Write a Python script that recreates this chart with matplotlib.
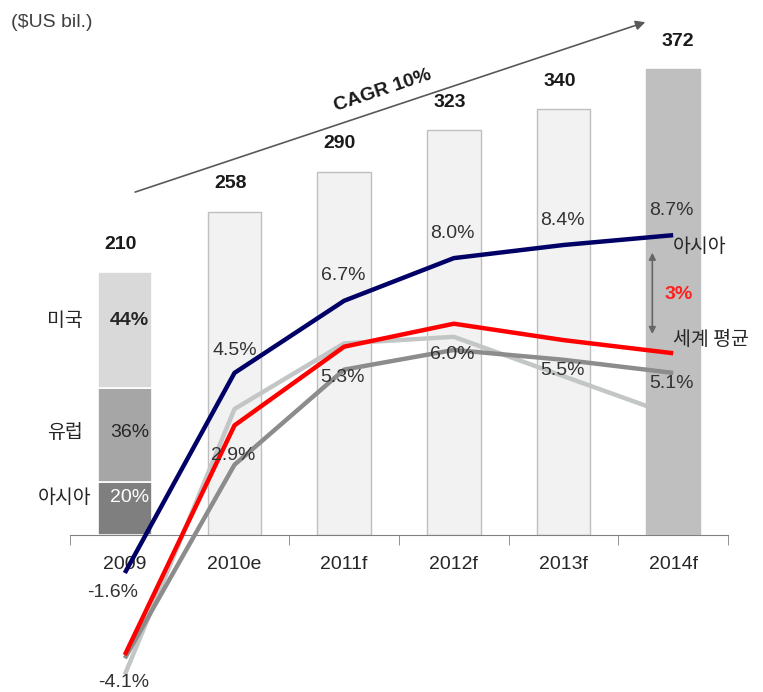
import matplotlib
matplotlib.use("Agg")
import matplotlib.pyplot as plt

plt.rcParams['font.family'] = ['Liberation Sans', 'Noto Sans CJK KR', 'DejaVu Sans']

years = ["2009", "2010e", "2011f", "2012f", "2013f", "2014f"]
market = [210, 258, 290, 323, 340, 372]          # $US bil.

# 2009 split by region
regions = ["아시아", "유럽", "미국"]
region_share = [20, 36, 44]

# growth rates (%)
asia = [-1.6, 4.5, 6.7, 8.0, 8.4, 8.7]
world = [-4.1, 2.9, 5.3, 6.0, 5.5, 5.1]
europe = [-4.2, 1.7, 4.6, 5.2, 4.9, 4.5]
usa = [-4.7, 3.4, 5.4, 5.6, 4.4, 3.2]
gap_label = "3%"

fig = plt.figure(figsize=(7.63, 6.92), dpi=100)
ax = fig.add_axes([70 / 763, 157 / 692, 658 / 763, 535 / 692])
ax2 = ax.twinx()
ax.set_zorder(1)
ax2.set_zorder(2)
ax2.patch.set_visible(False)

x = list(range(len(years)))
w = 0.49

# bars: first one stacked by region, last one highlighted
seg_colors = ["#7f7f7f", "#a6a6a6", "#d9d9d9"]
bottom = 0
seg_mid = []
for share, c in zip(region_share, seg_colors):
    h = market[0] * share / 100
    ax.bar(0, h, w, bottom=bottom, color=c, edgecolor="white", linewidth=1.2)
    seg_mid.append(bottom + h / 2)
    bottom += h
ax.bar(x[1:5], market[1:5], w, color="#f2f2f2", edgecolor="#bfbfbf", linewidth=1)
ax.bar(x[5], market[5], w, color="#bfbfbf", edgecolor="#bfbfbf", linewidth=1, zorder=3)

for i, v in enumerate(market):
    ax.annotate(str(v), (i, v), xytext=(-3 if i < 5 else 3, 20), textcoords="offset points",
                ha="center", va="center", fontsize=14, fontweight="bold", color="#1a1a1a")

# region labels next to / inside the first bar
share_style = [dict(color="white"), dict(color="#262626"), dict(color="#262626", fontweight="bold")]
nudge = [8, 2, 7]
for name, share, ym, st, dy in zip(regions, region_share, seg_mid, share_style, nudge):
    ax.annotate(name, (-0.5, ym), xytext=(-4, dy), textcoords="offset points",
                ha="center", va="center", fontsize=14, color="#262626",
                family=['Noto Sans CJK KR', 'DejaVu Sans'])
    ax.annotate(f"{share}%", (0.22, ym), xytext=(0, dy), textcoords="offset points",
                ha="right", va="center", fontsize=14, **st)

ax.set_xlim(-0.5, 5.5)
ax.set_ylim(0, 427)
ax.set_yticks([])
for s in ["top", "right", "left"]:
    ax.spines[s].set_visible(False)
ax.spines["bottom"].set_color("#808080")
ax.set_xticks(x)
ax.set_xticklabels(years, fontsize=14, color="#262626")
ax.tick_params(axis="x", which="major", length=0, pad=15)
ax.set_xticks([i - 0.5 for i in range(len(years) + 1)], minor=True)
ax.tick_params(axis="x", which="minor", length=7, color="#808080", direction="out")

# CAGR arrow
ax.annotate("", xy=(4.77, 410), xytext=(0.07, 273),
            arrowprops=dict(arrowstyle="-|>", color="#595959", lw=1.2, mutation_scale=14),
            annotation_clip=False)
ax.text(2.35, 355, "CAGR 10%", rotation=18.5, ha="center", va="center",
        fontsize=14, fontweight="bold", color="#1a1a1a", rotation_mode="anchor")

ax.text(-1.04, 409, "($US bil.)", ha="left", va="center", fontsize=14, color="#404040",
        clip_on=False)

# growth lines
ax2.set_ylim(-0.442, 15.87)
ax2.set_yticks([])
for s in ax2.spines.values():
    s.set_visible(False)
# US line sits under the 2014f bar, so it lives on the bar axes
ax.plot(x, usa, color="#c3c6c6", lw=3.2, clip_on=False, solid_capstyle="butt",
        transform=ax2.transData, zorder=2.5)
ax2.plot(x, europe, color="#8c8c8c", lw=3.2, clip_on=False, solid_capstyle="butt")
ax2.plot(x, world, color="#ff0000", lw=3.2, clip_on=False, solid_capstyle="butt")
ax2.plot(x, asia, color="#000066", lw=3.2, clip_on=False, solid_capstyle="butt")

for i, v in enumerate(asia):
    off = (-9, -14) if i == 0 else ((0, 16) if i == 1 else (-1, 18))
    ax2.annotate(f"{v:.1f}%", (i, v), xytext=off, textcoords="offset points",
                 ha="center", va="center", fontsize=14, color="#333333", annotation_clip=False)
for i, v in enumerate(world):
    dy = -20 if i == 0 else -22
    ax2.annotate(f"{v:.1f}%", (i, v), xytext=(-1, dy), textcoords="offset points",
                 ha="center", va="center", fontsize=14, color="#333333", annotation_clip=False)

# gap between Asia and world average in 2014
ax2.annotate("", xy=(5 - 0.19, asia[-1] - 0.45), xytext=(5 - 0.19, world[-1] + 0.5),
             arrowprops=dict(arrowstyle="<|-|>", color="#666666", lw=1.2, mutation_scale=10))
ax2.annotate(gap_label, (5, (asia[-1] + world[-1]) / 2), xytext=(-6, 0),
             textcoords="offset points", ha="left", va="center", fontsize=14,
             fontweight="bold", color="#ff2020")
ax2.annotate("아시아", (5, asia[-1]), xytext=(0, -8), textcoords="offset points",
             ha="left", va="center", fontsize=14, color="#262626",
             family=['Noto Sans CJK KR', 'DejaVu Sans'], annotation_clip=False)
ax2.annotate("세계 평균", (5, world[-1]), xytext=(0, 10), textcoords="offset points",
             ha="left", va="center", fontsize=14, color="#262626",
             family=['Noto Sans CJK KR', 'DejaVu Sans'], annotation_clip=False)

fig.savefig("out.png", dpi=100)
